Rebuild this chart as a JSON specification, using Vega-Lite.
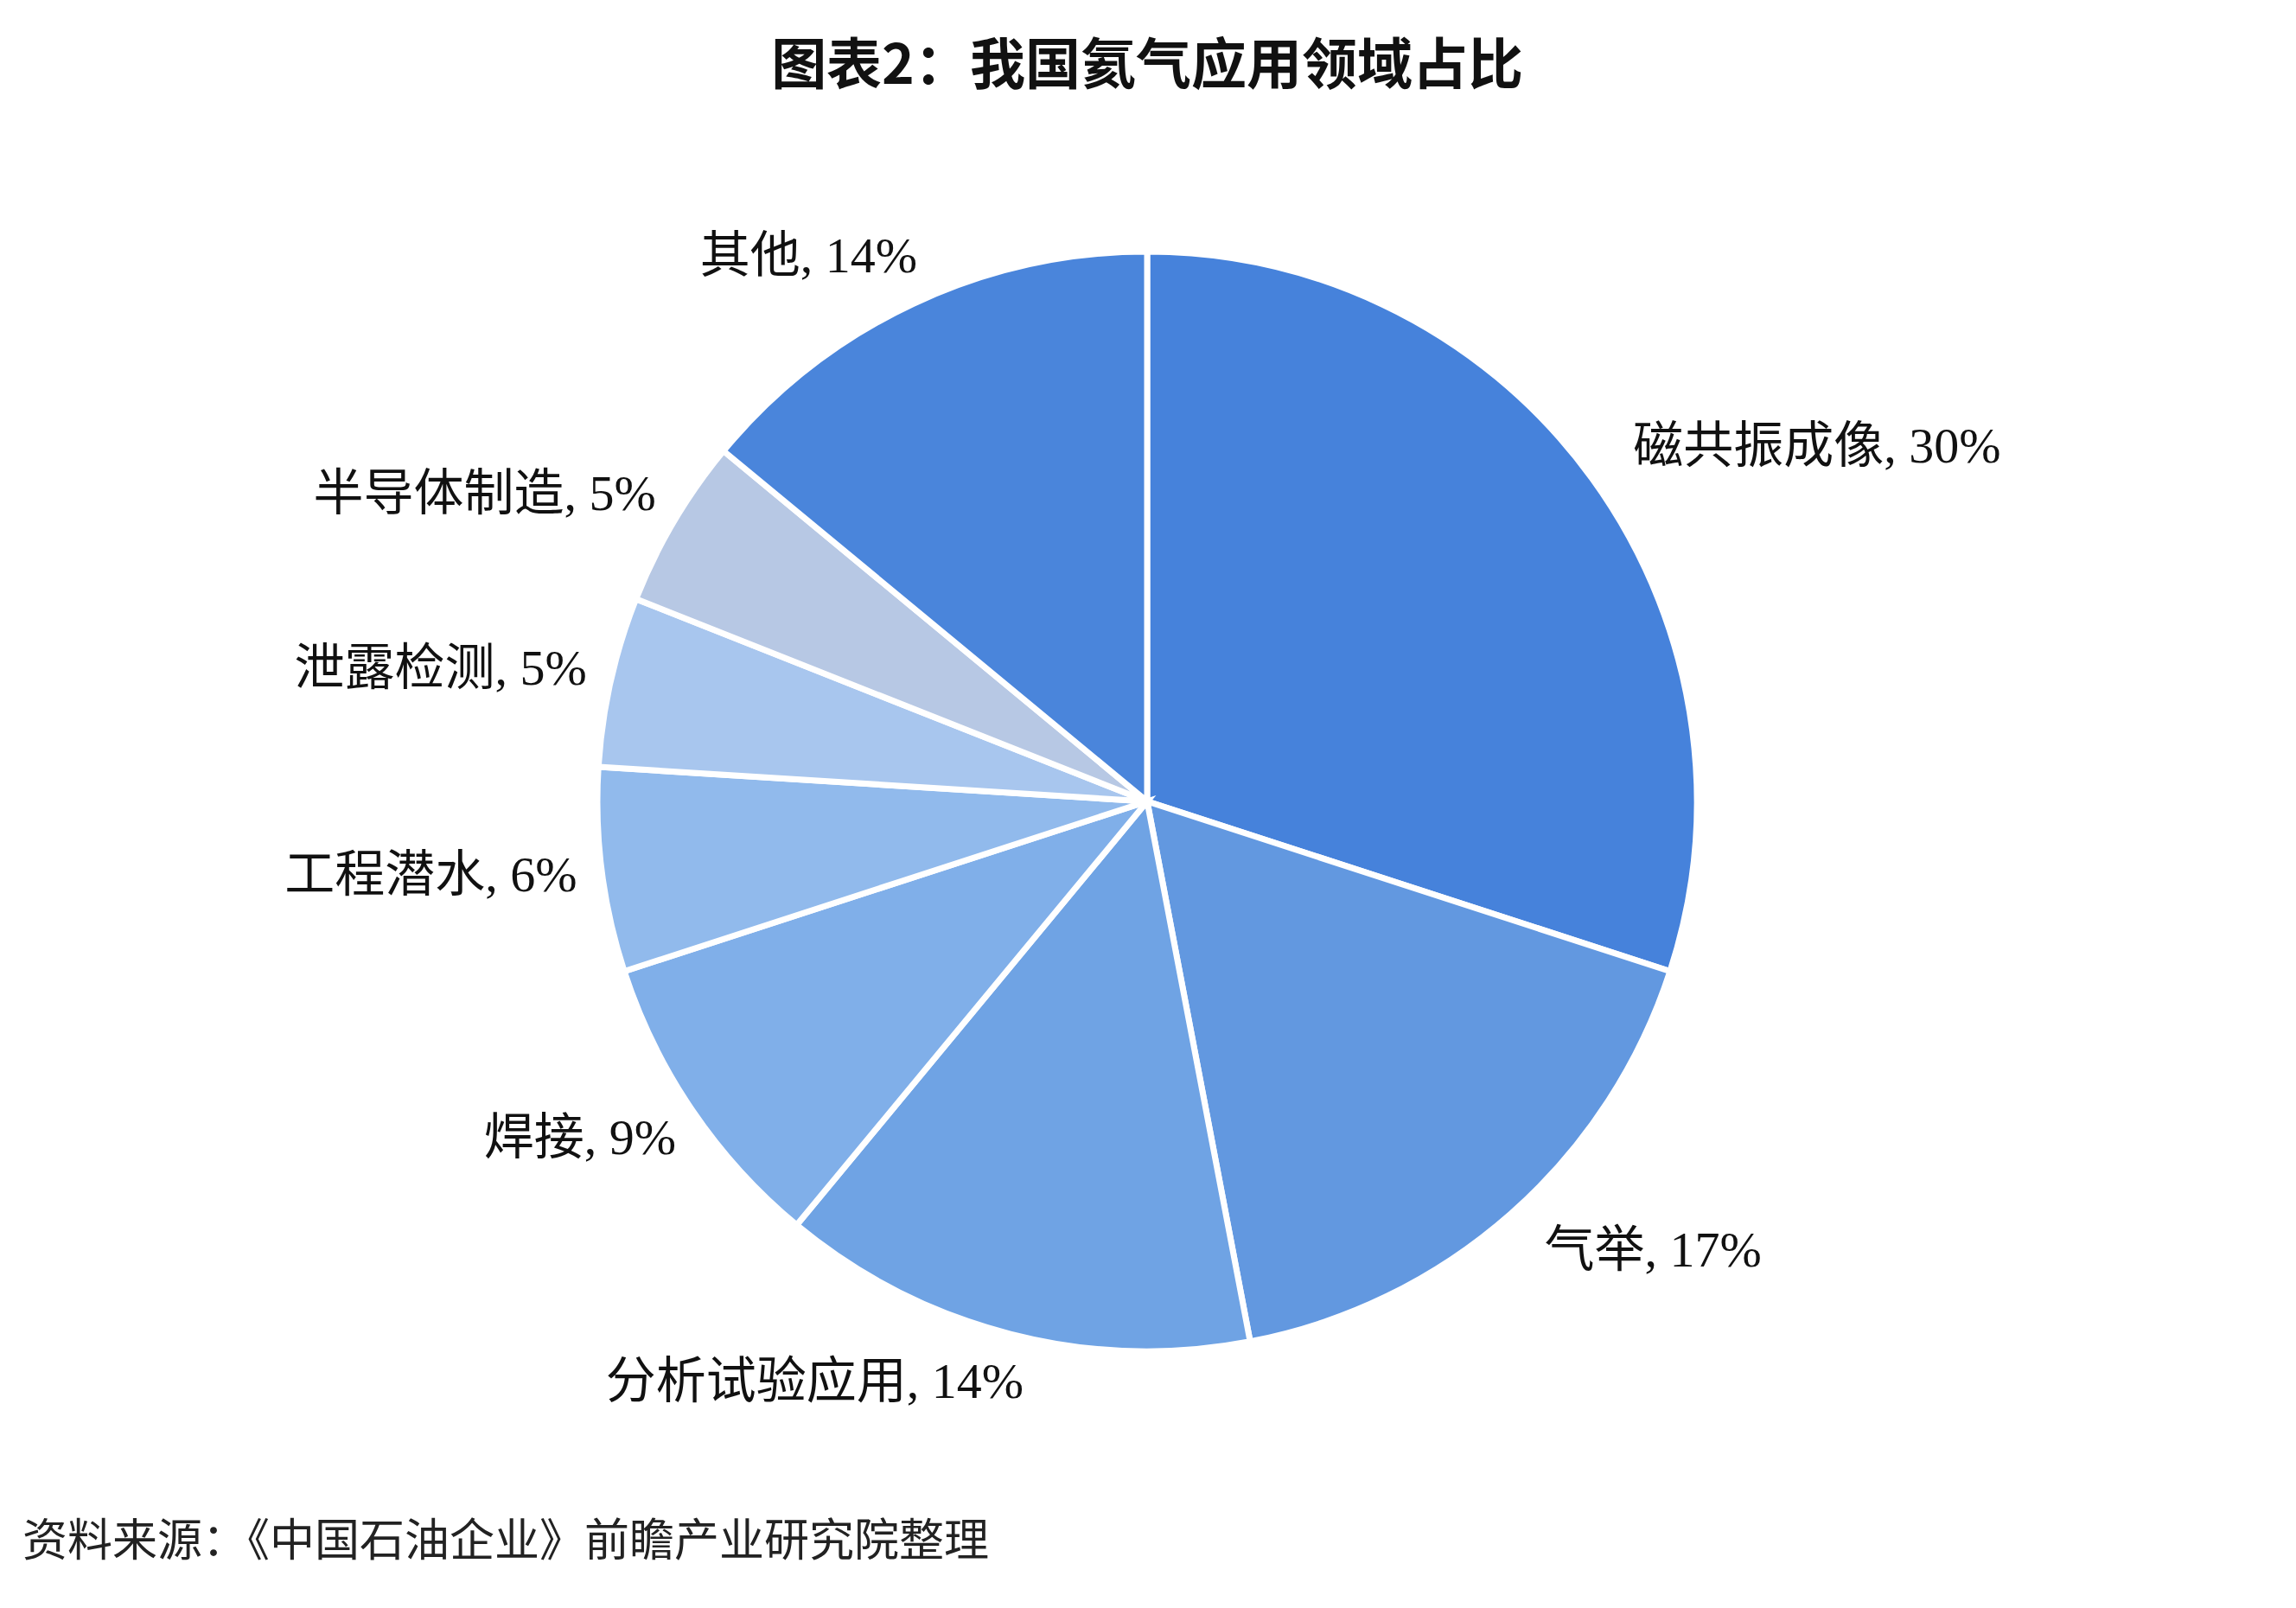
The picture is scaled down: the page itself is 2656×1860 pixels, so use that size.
{
  "$schema": "https://vega.github.io/schema/vega-lite/v6.json",
  "autosize": {"type": "none"},
  "width": 2634,
  "height": 1632,
  "padding": {"left": 10, "top": 111, "right": 12, "bottom": 117},
  "background": "white",
  "title": {
    "text": "图表2：我国氦气应用领域占比",
    "font": "Noto Sans CJK SC",
    "fontSize": 64,
    "fontWeight": "bold",
    "color": "#111111",
    "anchor": "middle",
    "offset": 1
  },
  "data": {
    "values": [
      {"name": "磁共振成像", "value": 30, "order": 1},
      {"name": "气举", "value": 17, "order": 2},
      {"name": "分析试验应用", "value": 14, "order": 3},
      {"name": "焊接", "value": 9, "order": 4},
      {"name": "工程潜水", "value": 6, "order": 5},
      {"name": "泄露检测", "value": 5, "order": 6},
      {"name": "半导体制造", "value": 5, "order": 7},
      {"name": "其他", "value": 14, "order": 8}
    ]
  },
  "encoding": {
    "theta": {"field": "value", "type": "quantitative", "stack": true},
    "order": {"field": "order", "type": "quantitative"}
  },
  "layer": [
    {
      "mark": {"type": "arc", "radius": 636, "stroke": "white", "strokeWidth": 7},
      "encoding": {
        "color": {
          "field": "name",
          "type": "nominal",
          "scale": {
            "domain": ["磁共振成像", "气举", "分析试验应用", "焊接", "工程潜水", "泄露检测", "半导体制造", "其他"],
            "range": ["#4682DB", "#6298E0", "#6FA3E4", "#80AFE9", "#91BAEC", "#A8C6EE", "#B7C8E4", "#4A85DB"]
          },
          "legend": null
        }
      }
    },
    {
      "transform": [{"calculate": "datum.name + ', ' + datum.value + '%'", "as": "label"}],
      "mark": {
        "type": "text",
        "radius": 695,
        "font": "Liberation Serif, Noto Sans CJK SC",
        "fontSize": 58,
        "color": "#111111",
        "baseline": "middle",
        "align": {"expr": "(datum.value_start + datum.value_end) / 2 < 50 ? 'left' : 'right'"},
        "dx": {"expr": "(datum.value_start + datum.value_end) / 2 < 50 ? 0 : 30"}
      },
      "encoding": {
        "text": {"field": "label", "type": "nominal"}
      }
    },
    {
      "data": {"values": [{"source": "资料来源：《中国石油企业》前瞻产业研究院整理"}]},
      "mark": {
        "type": "text",
        "x": 16,
        "y": {"expr": "height + 41"},
        "align": "left",
        "baseline": "middle",
        "font": "Noto Sans CJK SC",
        "fontSize": 52,
        "color": "#222222"
      },
      "encoding": {
        "theta": null,
        "order": null,
        "text": {"field": "source", "type": "nominal"}
      }
    }
  ]
}
